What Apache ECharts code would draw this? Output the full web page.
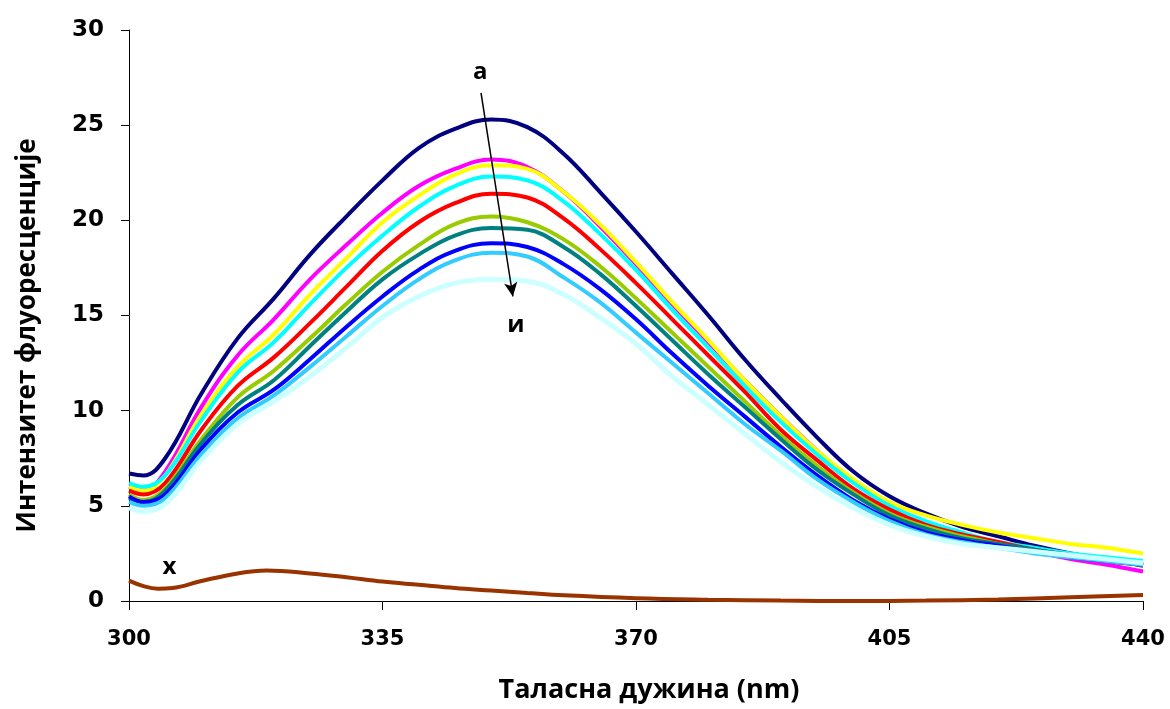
<!DOCTYPE html>
<html>
<head>
<meta charset="utf-8">
<script src="https://cdn.jsdelivr.net/npm/echarts@6/dist/echarts.min.js"></script>
<style>
html,body{margin:0;padding:0;background:#fff;}
#c{width:1170px;height:709px;}
</style>
</head>
<body>
<div id="c"></div>
<script>
// wavelengths (nm)
var wl = [300,302,305,310,315,320,325,330,335,340,345,350,355,360,365,370,375,380,385,390,395,400,405,410,415,420,425,430,435,440];
var sA = [6.7,6.6,7.5,10.9,13.8,15.9,18.2,20.2,22.1,23.8,24.8,25.3,24.9,23.5,21.5,19.4,17.2,15.0,12.7,10.6,8.6,6.8,5.5,4.6,3.9,3.4,2.9,2.5,2.2,1.85];
var sB = [6.0,5.8,6.8,10.2,12.9,14.8,16.9,18.7,20.4,21.8,22.7,23.2,22.8,21.5,19.7,17.7,15.6,13.6,11.6,9.7,7.9,6.3,5.0,4.1,3.5,3.0,2.6,2.2,1.9,1.55];
var sV = [6.0,5.8,6.6,9.8,12.3,14.0,16.1,18.0,19.9,21.3,22.4,22.9,22.7,21.5,19.8,17.8,15.7,13.7,11.6,9.7,7.9,6.4,5.2,4.5,4.0,3.6,3.3,3.0,2.8,2.5];
var sG = [6.2,6.0,6.6,9.5,12.0,13.6,15.6,17.5,19.2,20.7,21.8,22.3,22.1,21.0,19.3,17.4,15.3,13.3,11.3,9.4,7.7,6.2,5.0,4.2,3.6,3.1,2.8,2.5,2.3,2.1];
var sD = [5.8,5.6,6.2,9.0,11.3,12.8,14.6,16.5,18.4,19.9,20.9,21.4,21.2,20.1,18.5,16.7,14.8,12.9,11.0,9.0,7.4,5.9,4.8,4.0,3.5,3.1,2.7,2.4,2.1,1.9];
var sDj = [5.6,5.3,5.9,8.5,10.7,12.1,13.8,15.6,17.3,18.7,19.8,20.2,19.9,19.0,17.6,15.9,14.1,12.3,10.5,8.7,7.1,5.7,4.6,3.9,3.4,3.0,2.6,2.3,2.1,1.9];
var sE = [5.4,5.2,5.8,8.3,10.3,11.6,13.4,15.2,16.9,18.2,19.2,19.6,19.5,18.6,17.2,15.5,13.7,11.9,10.2,8.5,6.9,5.6,4.5,3.8,3.3,3.0,2.7,2.4,2.2,1.9];
var sZh = [5.5,5.2,5.6,8.0,9.9,11.1,12.7,14.4,16.0,17.4,18.4,18.8,18.6,17.7,16.4,14.8,13.0,11.3,9.7,8.1,6.6,5.3,4.3,3.6,3.2,2.9,2.6,2.3,2.1,1.9];
var sZ = [5.2,5.0,5.4,7.7,9.6,10.8,12.3,13.9,15.5,16.9,17.9,18.3,18.1,17.0,15.7,14.1,12.5,10.9,9.3,7.9,6.4,5.2,4.2,3.5,3.1,2.8,2.5,2.3,2.1,1.9];
var sI = [4.9,4.7,5.1,7.4,9.3,10.5,11.8,13.3,14.9,16.0,16.7,16.9,16.8,16.1,14.9,13.5,11.8,10.3,8.8,7.3,6.0,4.9,4.0,3.4,3.0,2.8,2.6,2.4,2.2,2.0];
// series х (brown)
var wlX = [300,302,304,306,310,315,319,325,330,335,340,345,350,355,360,370,380,390,400,410,420,430,440];
var sX  = [1.07,0.78,0.65,0.68,1.05,1.45,1.6,1.45,1.25,1.02,0.85,0.68,0.55,0.42,0.3,0.15,0.07,0.02,0.0,0.02,0.08,0.2,0.32];

var seriesNames = ['а','б','в','г','д','ђ','е','ж','з','и'];
var seriesValues = [sA,sB,sV,sG,sD,sDj,sE,sZh,sZ,sI];
var seriesColors = ['#000080','#FF00FF','#FFFF00','#00FFFF','#FF0000','#99CC00','#008080','#0000FF','#33CCFF','#CCFFFF'];

// annotations (data coordinates)
var annoText = ['а','и','х'];
var annoX = [348.5, 353.4, 305.6];
var annoY = [27.8, 14.5, 1.8];
var arrowFrom = [348.6, 26.7];
var arrowTo = [353.0, 16.0];

var xTicks = {min:300, max:440, interval:35};
var yTicks = {min:0, max:30, interval:5};

function pairs(xs, ys){ return xs.map(function(x,i){ return [x, ys[i]]; }); }

var series = [];
seriesValues.forEach(function(v, k){
  series.push({
    name: seriesNames[k], type:'line', data: pairs(wl, v), smooth: 0.4,
    showSymbol:false, symbol:'none',
    lineStyle:{color: seriesColors[k], width: k===9 ? 5 : 4},
    itemStyle:{color: seriesColors[k]}, silent:true, animation:false
  });
});
series.push({
  name:'х', type:'line', data: pairs(wlX, sX), smooth:0.4, symbol:'none',
  lineStyle:{color:'#993300', width:4}, silent:true, animation:false,
  markLine:{
    silent:true, animation:false, symbol:['none','arrow'], symbolSize:[10,14],
    lineStyle:{color:'#000', width:1.5, type:'solid'}, label:{show:false},
    data:[[{coord:arrowFrom},{coord:arrowTo}]]
  }
});
series.push({
  type:'scatter', symbol:'circle', symbolSize:1, itemStyle:{color:'rgba(0,0,0,0)'},
  silent:true, animation:false, z:10,
  data: annoText.map(function(t,i){ return {name:t, value:[annoX[i], annoY[i]]}; }),
  label:{show:true, position:'inside', formatter:'{b}', color:'#000', opacity:1,
    textBorderWidth:0, fontFamily:'Open Sans', fontWeight:'bold', fontSize:24}
});

var chart = echarts.init(document.getElementById('c'), null, {renderer:'canvas'});
chart.setOption({
  backgroundColor:'#fff',
  animation:false,
  grid:{left:129, right:27, top:30, bottom:107, containLabel:false},
  xAxis:{
    type:'value', min:xTicks.min, max:xTicks.max, interval:xTicks.interval,
    name:'Таласна дужина (nm)', nameLocation:'middle', nameGap:76,
    nameTextStyle:{fontFamily:'Open Sans', fontWeight:'bold', fontSize:27, color:'#000', padding:[0,0,0,26]},
    axisLine:{onZero:false, lineStyle:{color:'#000', width:1}},
    axisTick:{show:true, length:9, lineStyle:{color:'#000'}},
    axisLabel:{margin:28, fontFamily:'DejaVu Sans', fontWeight:'bold', fontSize:21, color:'#000'},
    splitLine:{show:false}
  },
  yAxis:{
    type:'value', min:yTicks.min, max:yTicks.max, interval:yTicks.interval,
    name:'Интензитет флуоресценције', nameLocation:'middle', nameGap:88,
    nameTextStyle:{fontFamily:'Open Sans', fontWeight:'bold', fontSize:26, color:'#000', padding:[0,40,0,0]},
    axisLine:{show:true, lineStyle:{color:'#000', width:1}},
    axisTick:{show:true, length:8, lineStyle:{color:'#000'}},
    axisLabel:{margin:25, fontFamily:'DejaVu Sans', fontWeight:'bold', fontSize:23, color:'#000'},
    splitLine:{show:false}
  },
  series: series
});
</script>
</body>
</html>
